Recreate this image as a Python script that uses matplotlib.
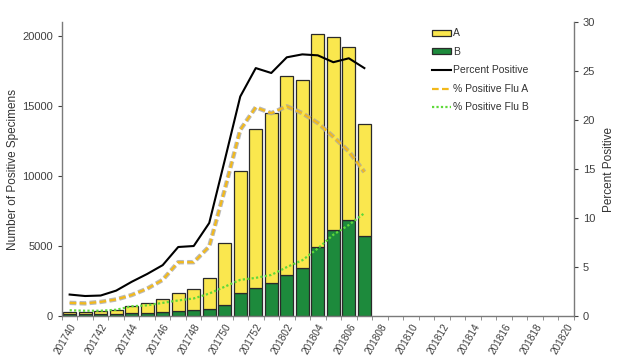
import matplotlib
matplotlib.use("Agg")
import matplotlib.pyplot as plt
import matplotlib.patheffects as pe
import numpy as np

weeks = [f"2017{w}" for w in range(40, 53)] + [f"2018{w:02d}" for w in range(1, 21)]
total = [320, 320, 370, 470, 720, 940, 1250, 1650, 1930, 2700, 5210, 10350,
         13380, 14530, 17110, 16870, 20150, 19960, 19190, 13740]
flu_b = [130, 120, 130, 150, 200, 250, 300, 330, 420, 480, 790, 1625,
         1985, 2340, 2940, 3470, 4920, 6120, 6840, 5740]
flu_a = [t - b for t, b in zip(total, flu_b)]
pct_pos = [2.2, 2.05, 2.1, 2.6, 3.5, 4.3, 5.2, 7.05, 7.15, 9.5, 15.9, 22.4,
           25.3, 24.8, 26.4, 26.7, 26.6, 25.9, 26.3, 25.3]
pct_a = [1.35, 1.3, 1.45, 1.7, 2.15, 2.8, 3.7, 5.5, 5.5, 7.1, 12.9, 19.0,
         21.3, 20.7, 21.4, 20.7, 19.7, 18.3, 16.8, 14.7]
pct_b = [0.6, 0.55, 0.55, 0.65, 1.0, 1.1, 1.35, 1.6, 1.8, 2.3, 3.0, 3.7,
         3.9, 4.2, 5.0, 5.7, 6.9, 8.3, 9.3, 10.5]

plt.rcParams['font.family'] = ['Liberation Sans', 'DejaVu Sans']
fig = plt.figure(figsize=(6.25, 3.58), dpi=100)
ax = fig.add_axes([0.099, 0.117, 0.819, 0.8215])
ax2 = ax.twinx()

x = np.arange(len(weeks))
n = len(total)
yellow = '#fae74e'
green = '#1d8a3c'
ax.bar(x[:n], flu_b, width=0.82, color=green, edgecolor='#2a2a2a', linewidth=0.9, label='B', zorder=2)
ax.bar(x[:n], flu_a, width=0.82, bottom=flu_b, color=yellow, edgecolor='#2a2a2a', linewidth=0.9, label='A', zorder=2)

ax.set_xlim(-0.5, len(weeks) - 0.5)
ax.set_ylim(0, 21000)
ax.set_yticks([0, 5000, 10000, 15000, 20000])
ax.set_xticks(x[::2])
ax.set_xticklabels(weeks[::2], rotation=60, ha='right', rotation_mode='anchor', fontsize=7.2, color='#404040')
ax.set_xticks(np.arange(-0.5, len(weeks), 1), minor=True)
ax.tick_params(axis='x', which='major', length=0, pad=4)
ax.tick_params(axis='x', which='minor', length=3, color='#808080', direction='out')
ax.tick_params(axis='y', labelsize=8, colors='#404040', length=3, direction='out')
ax.set_ylabel('Number of Positive Specimens', fontsize=8.5, color='#333333', labelpad=2)

shadow = [pe.Stroke(linewidth=3.2, foreground='#a8a8a8', alpha=0.8), pe.Normal()]
ax2.plot(x[:n], pct_pos, color='black', lw=1.5, label='Percent Positive', zorder=3)
ax2.plot(x[:n], pct_a, color='#f2b91c', lw=1.6, ls=(0, (3, 1.5)), label='% Positive Flu A',
         path_effects=shadow, zorder=3)
ax2.plot(x[:n], pct_b, color='#5fd93a', lw=1.6, ls=(0, (1, 1)), label='% Positive Flu B', zorder=3)
ax2.set_ylim(0, 30)
ax2.set_yticks([0, 5, 10, 15, 20, 25, 30])
ax2.tick_params(axis='y', labelsize=8, colors='#404040', length=3, direction='out')
ax2.set_ylabel('Percent Positive', fontsize=8.5, color='#333333', labelpad=6)

for a in (ax, ax2):
    a.spines['top'].set_visible(False)
    for s in ('left', 'right', 'bottom'):
        a.spines[s].set_color('#7a7a7a')
        a.spines[s].set_linewidth(1.0)
ax.spines['right'].set_visible(False)
ax2.spines['left'].set_visible(False)
ax2.spines['bottom'].set_visible(False)

h1, l1 = ax.get_legend_handles_labels()
h2, l2 = ax2.get_legend_handles_labels()
h_a = plt.Line2D([], [], color='#f2b91c', lw=1.6, ls=(0, (3, 1.5)))
handles = [h1[1], h1[0], h2[0], h_a, h2[2]]
labels = [l1[1], l1[0]] + l2
leg = ax2.legend(handles, labels, loc='upper left', bbox_to_anchor=(0.71, 1.0), frameon=False,
                 fontsize=7.5, handlelength=1.9, handleheight=0.5, handletextpad=0.2,
                 labelspacing=0.82, borderaxespad=0.2)
for t in leg.get_texts():
    t.set_color('#333333')

fig.savefig('out.png', dpi=100)
